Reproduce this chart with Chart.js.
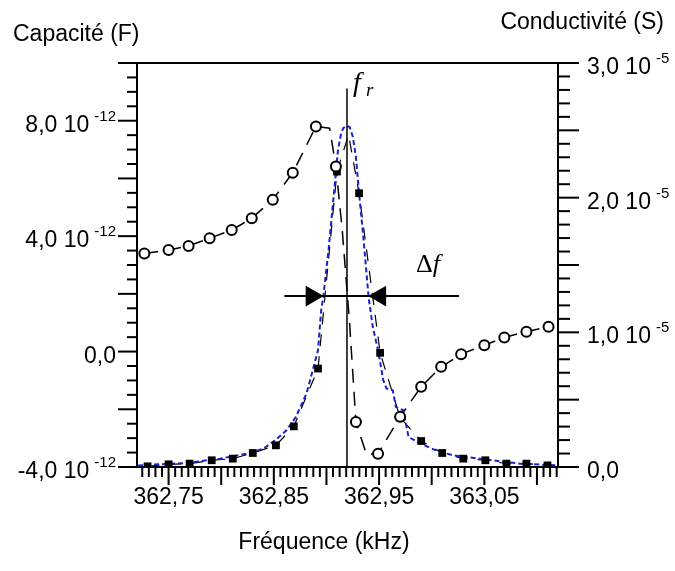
<!DOCTYPE html>
<html lang="fr">
<head>
<meta charset="UTF-8" />
<title>Capacité et conductivité</title>
<script src="https://cdn.jsdelivr.net/npm/chart.js"></script>
<style>
  body { margin: 0; background: #fff; }
  #wrap { width: 675px; height: 571px; }
</style>
</head>
<body>
<div id="wrap"><canvas id="chart" width="675" height="571"></canvas></div>
<script>
// capacité (e-12 F), points avec cercles
const capFreq = [362.727, 362.750, 362.769, 362.789, 362.810, 362.829, 362.849, 362.868, 362.890, 362.909,
                 362.928, 362.949, 362.970, 362.990, 363.009, 363.028, 363.050, 363.069, 363.090, 363.111];
const capValue = [3.40, 3.52, 3.66, 3.93, 4.21, 4.62, 5.26, 6.20, 7.80, 6.41,
                  -2.44, -3.54, -2.26, -1.22, -0.53, -0.09, 0.22, 0.49, 0.69, 0.86];
// points intermediaires (sans marqueur)
const capExtraFreq = [362.903, 362.915, 362.922, 362.938];
const capExtraValue = [7.74, 4.21, 0.98, -3.56];

// conductivite (e-5 S), carres pleins
const condFreq = [362.730, 362.750, 362.770, 362.791, 362.811, 362.830, 362.852, 362.869, 362.892, 362.910,
                  362.931, 362.951, 362.970, 362.990, 363.010, 363.030, 363.051, 363.071, 363.090, 363.110];
const condValue = [0.005, 0.020, 0.025, 0.050, 0.062, 0.104, 0.161, 0.302, 0.731, 2.194,
                   2.033, 0.848, 0.367, 0.193, 0.104, 0.062, 0.050, 0.025, 0.025, 0.012];
const condExtraFreq = [362.921];
const condExtraValue = [2.467];

// ajustement (tirets bleus)
const fitFreq = [362.721, 362.767, 362.799, 362.824, 362.840, 362.852, 362.862, 362.871, 362.881, 362.887,
                 362.892, 362.895, 362.897, 362.902, 362.905, 362.908, 362.911, 362.914, 362.916, 362.919,
                 362.922, 362.925, 362.928, 362.931, 362.935, 362.940, 362.944, 362.949, 362.954, 362.957,
                 362.963, 362.966, 362.973, 362.978, 362.989, 363.004, 363.020, 363.052, 363.084, 363.120];
const fitValue = [0.012, 0.030, 0.062, 0.099, 0.136, 0.203, 0.273, 0.372, 0.545, 0.719,
                  0.868, 1.165, 1.264, 1.611, 1.859, 2.107, 2.355, 2.479, 2.516, 2.534,
                  2.524, 2.454, 2.305, 2.033, 1.711, 1.264, 1.041, 0.868, 0.645, 0.583,
                  0.570, 0.446, 0.421, 0.223, 0.174, 0.124, 0.087, 0.055, 0.025, 0.012];

// fr et largeur Delta f
const resonanceFreq = [362.9195, 362.9195];
const resonanceLevel = [0, 2.81];
const widthFreq = [362.860, 363.026];
const widthLevel = [1.269, 1.269];
const arrowFreq = [362.886, 362.951];

// graduations
const xTickValues = [362.75, 362.85, 362.95, 363.05];
const xTickLabels = ['362,75', '362,85', '362,95', '363,05'];
const capTickValues = [8, 4, 0, -4];
const capTickLabels = ['8,0 10', '4,0 10', '0,0', '-4,0 10'];
const capTickExp = ['-12', '-12', '', '-12'];
const condTickValues = [3, 2, 1, 0];
const condTickLabels = ['3,0 10', '2,0 10', '1,0 10', '0,0'];
const condTickExp = ['-5', '-5', '-5', ''];

const sans = "'Liberation Sans', Arial, sans-serif";
const serif = "'Liberation Serif', 'Times New Roman', serif";

function pts(xs, ys) {
  return xs.map((x, i) => ({ x: x, y: ys[i] }));
}
const capLine = pts(capFreq, capValue).concat(pts(capExtraFreq, capExtraValue)).sort((a, b) => a.x - b.x);
const condLine = pts(condFreq, condValue).concat(pts(condExtraFreq, condExtraValue)).sort((a, b) => a.x - b.x);

function tickMarks(ctx, scale, step, every, draw) {
  const k0 = Math.ceil(scale.min / step - 1e-6);
  const k1 = Math.floor(scale.max / step + 1e-6);
  for (let k = k0; k <= k1; k++) {
    draw(scale.getPixelForValue(k * step), k % every === 0);
  }
}

function seg(ctx, x1, y1, x2, y2) {
  ctx.beginPath();
  ctx.moveTo(x1, y1);
  ctx.lineTo(x2, y2);
  ctx.stroke();
}

function expLabel(ctx, mant, exp, x, y, align) {
  ctx.font = '23px ' + sans;
  const wm = ctx.measureText(mant).width;
  ctx.font = '15px ' + sans;
  const we = exp ? ctx.measureText(exp).width : 0;
  const gap = exp ? 5 : 0;
  const x0 = align === 'right' ? x - wm - gap - we : x;
  ctx.textAlign = 'left';
  ctx.textBaseline = 'alphabetic';
  ctx.font = '23px ' + sans;
  ctx.fillText(mant, x0, y + 11);
  if (exp) {
    ctx.font = '15px ' + sans;
    ctx.fillText(exp, x0 + wm + gap, y);
  }
}

const axisDecor = {
  id: 'axisDecor',
  afterDraw(chart) {
    const { ctx, chartArea: a, scales } = chart;
    const x = scales.x, yC = scales.yC, yG = scales.yG;
    ctx.save();
    ctx.strokeStyle = '#000';
    ctx.fillStyle = '#000';
    ctx.lineWidth = 2;
    seg(ctx, a.left, a.top, a.right, a.top);

    tickMarks(ctx, yC, 0.5, 4, (p, major) => seg(ctx, a.left, p, a.left - (major ? 19 : 10), p));
    tickMarks(ctx, yG, 0.1, 5, (p, major) => seg(ctx, a.right, p, a.right + (major ? 21 : 12), p));
    tickMarks(ctx, x, 0.00625, 8, (p, major) => seg(ctx, p, a.bottom, p, a.bottom + (major ? 18 : 10)));

    capTickValues.forEach((v, i) => expLabel(ctx, capTickLabels[i], capTickExp[i], 116, yC.getPixelForValue(v), 'right'));
    condTickValues.forEach((v, i) => expLabel(ctx, condTickLabels[i], condTickExp[i], 587, yG.getPixelForValue(v), 'left'));

    ctx.font = '23px ' + sans;
    ctx.textAlign = 'center';
    xTickValues.forEach((v, i) => ctx.fillText(xTickLabels[i], x.getPixelForValue(v), a.bottom + 37));

    ctx.fillText('Fréquence (kHz)', 324, 549);
    ctx.textAlign = 'left';
    ctx.fillText('Capacité (F)', 13, 41);
    ctx.textAlign = 'right';
    ctx.fillText('Conductivité (S)', 664, 29);

    // f_r
    const fx = x.getPixelForValue(resonanceFreq[0]);
    const fy = yG.getPixelForValue(resonanceLevel[1]);
    ctx.textAlign = 'left';
    ctx.font = 'italic 28px ' + serif;
    ctx.fillText('f', fx + 6, fy + 2);
    ctx.font = 'italic 19px ' + serif;
    ctx.fillText('r', fx + 19, fy + 7);

    // Delta f
    const dy = yG.getPixelForValue(widthLevel[0]);
    const dx = x.getPixelForValue(362.985);
    ctx.font = '26px ' + serif;
    ctx.fillText('Δ', dx, dy - 24);
    const wd = ctx.measureText('Δ').width;
    ctx.font = 'italic 26px ' + serif;
    ctx.fillText('f', dx + wd, dy - 24);
    ctx.restore();
  }
};

new Chart(document.getElementById('chart'), {
  type: 'scatter',
  data: {
    datasets: [
      {
        data: pts(arrowFreq, [widthLevel[0], widthLevel[0]]),
        yAxisID: 'yG',
        showLine: false,
        pointStyle: 'triangle',
        pointRadius: 12,
        pointRotation: [90, -90],
        pointBackgroundColor: '#000',
        pointBorderWidth: 0
      },
      {
        data: pts(widthFreq, widthLevel),
        yAxisID: 'yG',
        showLine: true,
        borderColor: '#000',
        borderWidth: 2,
        pointRadius: 0
      },
      {
        data: pts(resonanceFreq, resonanceLevel),
        yAxisID: 'yG',
        showLine: true,
        borderColor: '#000',
        borderWidth: 1.5,
        pointRadius: 0
      },
      {
        data: pts(capFreq, capValue),
        yAxisID: 'yC',
        showLine: false,
        pointStyle: 'circle',
        pointRadius: 5,
        pointBorderWidth: 2,
        pointBorderColor: '#000',
        pointBackgroundColor: '#fff'
      },
      {
        data: pts(condFreq, condValue),
        yAxisID: 'yG',
        showLine: false,
        pointStyle: 'rect',
        pointRadius: 5.5,
        pointBorderWidth: 0,
        pointBackgroundColor: '#000'
      },
      {
        data: pts(fitFreq, fitValue),
        yAxisID: 'yG',
        showLine: true,
        borderColor: '#1c22c8',
        borderWidth: 2,
        borderDash: [5, 3],
        pointRadius: 0
      },
      {
        data: capLine,
        yAxisID: 'yC',
        showLine: true,
        borderColor: '#000',
        borderWidth: 1.5,
        borderDash: [14, 9],
        pointRadius: 0
      },
      {
        data: condLine,
        yAxisID: 'yG',
        showLine: true,
        borderColor: '#000',
        borderWidth: 1.2,
        borderDash: [12, 10],
        pointRadius: 0
      }
    ]
  },
  options: {
    responsive: false,
    animation: false,
    events: [],
    layout: { padding: { top: 63, left: 0, right: 0, bottom: 0 } },
    plugins: { legend: { display: false }, tooltip: { enabled: false } },
    scales: {
      x: {
        type: 'linear',
        position: 'bottom',
        min: 362.72,
        max: 363.12,
        grid: { display: false },
        ticks: { display: false },
        border: { color: '#000', width: 2 },
        afterFit: s => { s.height = 104; }
      },
      yC: {
        type: 'linear',
        position: 'left',
        min: -4,
        max: 10,
        grid: { display: false },
        ticks: { display: false },
        border: { color: '#000', width: 2 },
        afterFit: s => { s.width = 137; }
      },
      yG: {
        type: 'linear',
        position: 'right',
        min: 0,
        max: 3,
        grid: { display: false },
        ticks: { display: false },
        border: { color: '#000', width: 2 },
        afterFit: s => { s.width = 117; }
      }
    }
  },
  plugins: [axisDecor]
});
</script>
</body>
</html>
